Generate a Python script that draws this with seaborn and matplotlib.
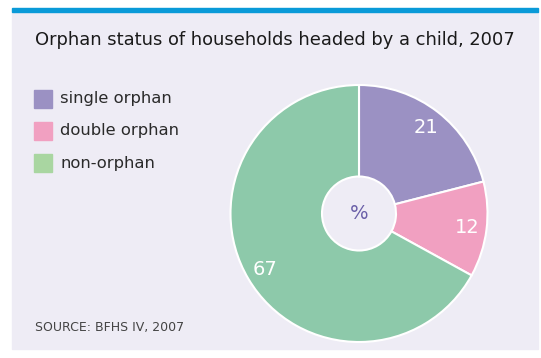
import numpy as np
import seaborn as sns
import matplotlib.pyplot as plt
from matplotlib.patches import Rectangle

# data
categories = ["single orphan", "double orphan", "non-orphan"]
shares = [21, 12, 67]
wedge_colors = ["#9b91c3", "#f1a0c1", "#8dc9aa"]
legend_colors = ["#9b91c3", "#f1a0c1", "#a9d6a1"]
title = "Orphan status of households headed by a child, 2007"
source = "SOURCE: BFHS IV, 2007"

sns.set_theme(style="white")
plt.rcParams["font.family"] = ["DejaVu Sans"]

W, H = 541, 358
fig = plt.figure(figsize=(W / 100, H / 100), dpi=100)
fig.patch.set_facecolor("white")

# panel background and blue top rule
bg = "#eeecf5"
fig.patches.append(Rectangle((12 / W, 1 - 349 / H), (538 - 12) / W, (349 - 12) / H,
                             transform=fig.transFigure, color=bg, zorder=-2))
fig.patches.append(Rectangle((12 / W, 1 - 12 / H), (538 - 12) / W, 4 / H,
                             transform=fig.transFigure, color="#0a9ad8", zorder=-1))

fig.text(35 / W, 1 - 40 / H, title, fontsize=12.9, color="#1a1a1a", va="center", ha="left")

# legend
for i, (lab, col) in enumerate(zip(categories, legend_colors)):
    yc = 99 + 32 * i
    fig.patches.append(Rectangle((34 / W, 1 - (yc + 9) / H), 18 / W, 18 / H,
                                 transform=fig.transFigure, color=col, zorder=-1))
    fig.text(60 / W, 1 - yc / H, lab, fontsize=11.8, color="#2a2a2a", va="center", ha="left")

fig.text(35 / W, 1 - 327 / H, source, fontsize=9, color="#444444", va="center", ha="left")

# donut
cx, cy, r = 359, 213.5, 128.5
ax = fig.add_axes([(cx - r) / W, 1 - (cy + r) / H, 2 * r / W, 2 * r / H])
ax.set_zorder(3)
ax.set_facecolor("none")
wedges, _ = ax.pie(shares, colors=wedge_colors, startangle=90, counterclock=False,
                   radius=1, wedgeprops=dict(width=1 - 37 / 128.5, edgecolor="white", linewidth=1.5))
ax.set_xlim(-1, 1)
ax.set_ylim(-1, 1)
ax.set_aspect("equal")
ax.axis("off")
for w in wedges:
    w.set_clip_on(False)

start = 0.0
for v in shares:
    mid = (start + v / 2) / sum(shares) * 2 * np.pi
    ax.text(0.85 * np.sin(mid), 0.85 * np.cos(mid), str(v), color="white",
            fontsize=14, ha="center", va="center")
    start += v
ax.text(0, 0, "%", color="#6a5fa8", fontsize=14, ha="center", va="center")

fig.savefig("out.png", dpi=100)
